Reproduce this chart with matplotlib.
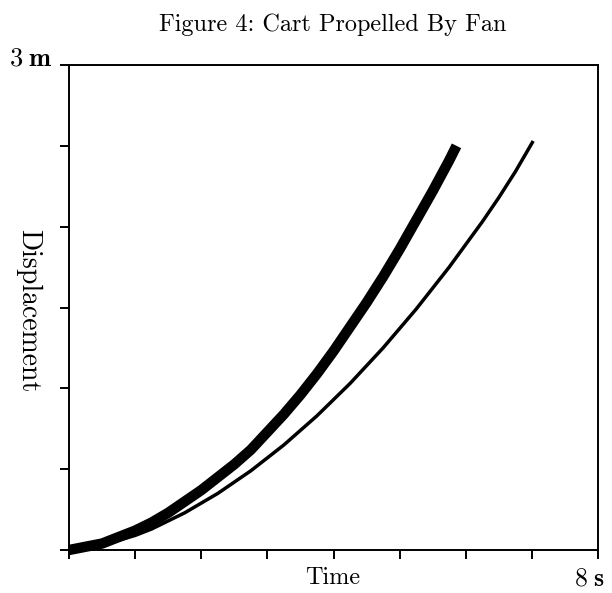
import matplotlib
matplotlib.use("Agg")
import matplotlib.pyplot as plt

plt.rcParams["font.family"] = "cmr10"
plt.rcParams["mathtext.fontset"] = "cm"
plt.rcParams["axes.formatter.use_mathtext"] = True

# displacement (m) against time (s) for the two runs
t_fast = [0, 0.25, 0.5, 0.75, 1, 1.25, 1.5, 1.75, 2, 2.25, 2.5, 2.75, 3,
          3.25, 3.5, 3.75, 4, 4.25, 4.5, 4.75, 5, 5.25, 5.5, 5.75, 5.86]
d_fast = [0, 0.02, 0.04, 0.08, 0.12, 0.17, 0.23, 0.30, 0.37, 0.45, 0.53, 0.62, 0.73,
          0.84, 0.96, 1.09, 1.23, 1.38, 1.53, 1.69, 1.86, 2.04, 2.22, 2.41, 2.50]

t_slow = [0, 0.25, 0.5, 0.75, 1, 1.25, 1.5, 1.75, 2, 2.25, 2.5, 2.75, 3, 3.25, 3.5,
          3.75, 4, 4.25, 4.5, 4.75, 5, 5.25, 5.5, 5.75, 6, 6.25, 6.5, 6.75, 7.02]
d_slow = [0, 0.01, 0.03, 0.06, 0.09, 0.13, 0.18, 0.23, 0.29, 0.35, 0.42, 0.49, 0.57, 0.65, 0.74,
          0.83, 0.93, 1.03, 1.14, 1.25, 1.37, 1.49, 1.62, 1.75, 1.89, 2.03, 2.18, 2.34, 2.53]

x_ticks = [0, 1, 2, 3, 4, 5, 6, 7, 8]
y_ticks = [0, 0.5, 1, 1.5, 2, 2.5, 3]

fig = plt.figure(figsize=(6.12, 5.93), dpi=100)
ax = fig.add_axes([69 / 612, 1 - 550 / 593, 529 / 612, 485 / 593])

ax.plot(t_fast, d_fast, color="black", lw=7.5, solid_capstyle="butt",
        solid_joinstyle="round", clip_on=False)
ax.plot(t_slow, d_slow, color="black", lw=2.5, solid_capstyle="butt",
        solid_joinstyle="round", clip_on=False)

ax.set_xlim(0, 8)
ax.set_ylim(0, 3)
ax.set_xticks(x_ticks)
ax.set_yticks(y_ticks)
ax.set_xticklabels([])
ax.set_yticklabels([])
ax.tick_params(direction="out", length=6.5, width=1.4)
for s in ax.spines.values():
    s.set_linewidth(1.4)

fig.text(333 / 612, 1 - 25 / 593, "Figure 4: Cart Propelled By Fan",
         ha="center", va="center", fontsize=17.5)
fig.text(333 / 612, 1 - 578 / 593, "Time", ha="center", va="center", fontsize=17.5)
fig.text(28 / 612, 1 - 311 / 593, "Displacement", ha="center", va="center",
         rotation=270, fontsize=20)
fig.text(53 / 612, 1 - 65 / 593, r"$3\;\mathbf{m}$", ha="right", va="baseline", fontsize=19)
fig.text(604 / 612, 1 - 586 / 593, r"$8\;\mathbf{s}$", ha="right", va="baseline", fontsize=18.5)

fig.savefig("out.png", dpi=100)
